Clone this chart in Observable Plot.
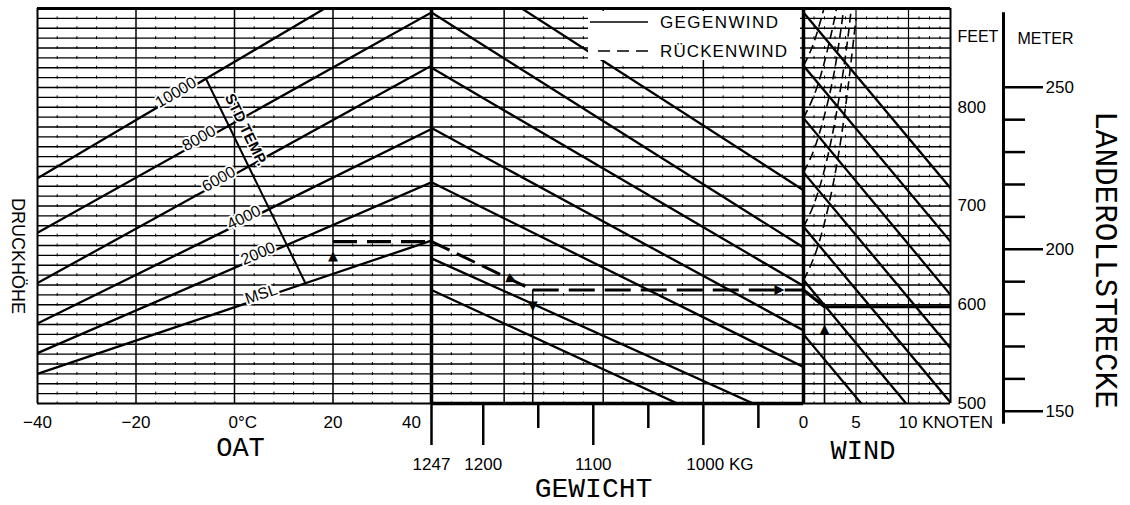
<!DOCTYPE html>
<html><head><meta charset="utf-8">
<script src="https://cdn.jsdelivr.net/npm/d3@7"></script>
<script src="https://cdn.jsdelivr.net/npm/@observablehq/plot@0.6"></script>
<style>
html,body{margin:0;padding:0;background:#fff;}
#wrap{position:relative;width:1130px;height:505px;overflow:hidden;background:#fff;}
#wrap > svg{position:absolute;left:0;top:0;overflow:visible;background:transparent;}
#wrap text{paint-order:stroke;}
#legend{position:absolute;left:588px;top:11px;width:212px;height:49px;background:#fff;}
</style></head><body>
<div id="wrap"></div>
<script>
// ---------- data ----------
const oatTicks = [-40, -20, 0, 20, 40];
const oatGrid = [-20, 0, 20];
const oatMinor = [-36, -32, -28, -24, -16, -12, -8, -4, 4, 8, 12, 16, 24, 28, 32, 36];
const paNames = ["MSL", "2000", "4000", "6000", "8000", "10000"];
const paAtMinus40 = [530, 551, 581, 622, 673, 728];
const paAtPlus40 = [665, 724, 778, 842, 896, 964];
const paLabelOat = [5.4, 4.8, 1.9, -3.2, -7.2, -11.9];
const stdTempOat = [-5.8, 14.4]; // ends on the 10000 and the MSL line

const weightTicks = [1247, 1200, 1100, 1000];
const weightMinorTicks = [1150, 1050, 950];
const weightGrid = [1181, 1091, 1000];
const weightMinor = [1229, 1211, 1163, 1145, 1127, 1109, 1073, 1055, 1037, 1019, 982, 964, 946, 928];
const guideAt1247 = [959, 896, 840, 779, 724, 647, 615];
const guideAt909 = [716, 658, 619, 574, 537, 477, 441];

const windTicks = [0, 5, 10];
const windMinor = [1, 2, 3, 4, 6, 7, 8, 9, 11, 12, 13];
const headAt0 = [896, 842, 789, 734, 679, 625, 570];
const headAt14 = [718, 664, 610, 556, 501, 446, 392];
const tailCurves = [
  [[0, 842], [1, 866], [2, 902]],
  [[0, 789], [1, 812], [2, 846], [3, 892], [3.3, 912]],
  [[0, 734], [1, 757], [2, 792], [3, 840], [3.9, 905]],
  [[0, 679], [1, 702], [2, 737], [3, 786], [4, 852], [4.6, 905]],
  [[0, 625], [1, 648], [2, 683], [3, 732], [4, 800], [5, 890]]
];

const feetTicks = [500, 600, 700, 800];
const meterTicks = [150, 200, 250];
const meterMinor = [160, 170, 180, 190, 210, 220, 230, 240];
const meterAxisEnds = [146, 273];

const routeOat = 20, routeWeight = 1155, routeWind = 2;
const routeFeet = [664, 615, 598];

// ---------- layout ----------
const W = 1130, H = 505, MT = 8, MB = 102;
const FEET = [500, 900];
const grid = d3.range(510, 900, 10);
const SANS = "'Liberation Sans',Arial,sans-serif";
const MONO = "'Liberation Mono','DejaVu Sans Mono',monospace";
const wrap = document.getElementById("wrap");
const AX = {label: null, fontSize: 17};

function panel(ml, mr, x, marks) {
  const svg = Plot.plot({
    width: W, height: H, marginTop: MT, marginBottom: MB, marginLeft: ml, marginRight: mr,
    x: {...x, axis: null}, y: {domain: FEET, axis: null},
    style: {fontFamily: SANS, fontSize: "17px", color: "#000", background: "transparent", overflow: "visible"},
    marks
  });
  wrap.appendChild(svg);
  return svg;
}
const pxPerFt = (H - MT - MB) / (FEET[1] - FEET[0]);
const lineCommon = {stroke: "#000", strokeLinecap: "butt"};
const dotted = {stroke: "#000", strokeWidth: 1, strokeDasharray: "3 6.875", strokeDashoffset: 1.5};
const arrowGlyph = {text: () => "▲", fontSize: 13, fontFamily: "DejaVu Sans"};

// ---------- panel A : OAT ----------
const aL = 37, aR = 431;
const pxPerC = (aR - aL) / 80;
const paData = paNames.flatMap((n, i) => [{oat: -40, ft: paAtMinus40[i], pa: n}, {oat: 40, ft: paAtPlus40[i], pa: n}]);
const paAt = (i, t) => paAtMinus40[i] + (paAtPlus40[i] - paAtMinus40[i]) * (t + 40) / 80;
const paLab = paNames.map((n, i) => ({
  oat: paLabelOat[i], ft: paAt(i, paLabelOat[i]), label: n,
  rot: -Math.atan((paAtPlus40[i] - paAtMinus40[i]) * pxPerFt / (80 * pxPerC)) * 180 / Math.PI
}));
const stdData = [{oat: stdTempOat[0], ft: paAt(5, stdTempOat[0])}, {oat: stdTempOat[1], ft: paAt(0, stdTempOat[1])}];
const stdRot = Math.atan((stdData[0].ft - stdData[1].ft) * pxPerFt / ((stdData[1].oat - stdData[0].oat) * pxPerC)) * 180 / Math.PI;
const stdMid = {oat: stdData[0].oat + 0.25 * (stdData[1].oat - stdData[0].oat), ft: stdData[0].ft + 0.25 * (stdData[1].ft - stdData[0].ft)};

panel(aL, W - aR, {domain: [-40, 40]}, [
  Plot.ruleY(grid, {...lineCommon, strokeWidth: 1.4}),
  Plot.ruleX(oatMinor, dotted),
  Plot.ruleX(oatGrid, {...lineCommon, strokeWidth: 1.5}),
  Plot.line(paData, {x: "oat", y: "ft", z: "pa", ...lineCommon, strokeWidth: 2.3, clip: true}),
  Plot.line(stdData, {x: "oat", y: "ft", ...lineCommon, strokeWidth: 2}),
  Plot.text(paLab, {x: "oat", y: "ft", text: "label", rotate: "rot", dy: -4, fontSize: 16, stroke: "white", strokeWidth: 4, fill: "black"}),
  Plot.text([stdMid], {x: "oat", y: "ft", text: () => "STD TEMP.", rotate: stdRot, dx: 15, fontSize: 15, fontWeight: "bold", stroke: "white", strokeWidth: 3, fill: "black"}),
  // route
  Plot.line([{oat: routeOat, ft: routeFeet[0]}, {oat: 40, ft: routeFeet[0]}], {x: "oat", y: "ft", ...lineCommon, strokeWidth: 3.2, strokeDasharray: "24 10"}),
  Plot.text([{oat: routeOat, ft: routeFeet[0] - 14}], {x: "oat", y: "ft", ...arrowGlyph}),
  // borders
  Plot.ruleX([-40], {...lineCommon, strokeWidth: 2}),
  Plot.ruleY([500], {...lineCommon, strokeWidth: 2.2}),
  Plot.ruleY([900], {...lineCommon, strokeWidth: 3}),
  // axes
  Plot.axisX({...AX, ticks: [-40, -20, 20], tickSize: 0, tickPadding: 12, tickFormat: d => d < 0 ? "\u2212" + (-d) : String(d)}),
  Plot.axisX({...AX, ticks: [0], tickSize: 0, tickPadding: 12, textAnchor: "start", dx: -6, tickFormat: () => "0°C"}),
  Plot.axisX({...AX, ticks: [40], tickSize: 0, tickPadding: 12, dx: -20}),
  Plot.text(["OAT"], {frameAnchor: "bottom", dx: 6, dy: 52, fontFamily: MONO, fontSize: 27}),
  Plot.text(["DRUCKHÖHE"], {frameAnchor: "left", textAnchor: "middle", dx: -20, dy: 50, rotate: 90, fontSize: 18})
]);

// ---------- panel B : weight ----------
const bL = 431, bR = 803;
const guideData = guideAt1247.flatMap((v, i) => [{w: 1247, ft: v, k: i}, {w: 909, ft: guideAt909[i], k: i}]);
const pxPerKg = (bR - bL) / (1247 - 909);
const routeDiagRot = 90 + Math.atan((routeFeet[0] - routeFeet[1]) * pxPerFt / ((1247 - routeWeight) * pxPerKg)) * 180 / Math.PI;
panel(bL, W - bR, {domain: [1247, 909]}, [
  Plot.ruleY(grid, {...lineCommon, strokeWidth: 1.4}),
  Plot.ruleX(weightMinor, dotted),
  Plot.ruleX(weightGrid, {...lineCommon, strokeWidth: 1.5}),
  Plot.line(guideData, {x: "w", y: "ft", z: "k", ...lineCommon, strokeWidth: 2.3, clip: true}),
  // route
  Plot.line([{w: 1247, ft: routeFeet[0]}, {w: routeWeight, ft: routeFeet[1]}], {x: "w", y: "ft", ...lineCommon, strokeWidth: 3, strokeDasharray: "20 8"}),
  Plot.text([{w: 1247 - 0.8 * (1247 - routeWeight), ft: routeFeet[0] - 0.8 * (routeFeet[0] - routeFeet[1])}], {x: "w", y: "ft", ...arrowGlyph, rotate: routeDiagRot}),
  Plot.line([{w: routeWeight, ft: routeFeet[1]}, {w: 909, ft: routeFeet[1]}], {x: "w", y: "ft", ...lineCommon, strokeWidth: 3, strokeDasharray: "26 10"}),
  Plot.text([{w: 930, ft: routeFeet[1]}], {x: "w", y: "ft", ...arrowGlyph, rotate: 90}),
  Plot.ruleX([routeWeight], {y1: 500, y2: routeFeet[1], ...lineCommon, strokeWidth: 1.6}),
  Plot.text([{w: routeWeight, ft: routeFeet[2]}], {x: "w", y: "ft", ...arrowGlyph, rotate: 180}),
  // borders
  Plot.ruleX([1247], {...lineCommon, strokeWidth: 3.5, y1: 500, y2: 900}),
  Plot.ruleY([500], {...lineCommon, strokeWidth: 3.5}),
  Plot.ruleY([900], {...lineCommon, strokeWidth: 3}),
  // axes
  Plot.axisX({...AX, ticks: weightTicks, tickSize: 42, tickPadding: 12, strokeWidth: 2.5, tickFormat: d => d === 1000 ? "" : String(d)}),
  Plot.axisX({...AX, ticks: [1000], tickSize: 0, tickPadding: 54, textAnchor: "start", dx: -17, tickFormat: () => "1000 KG"}),
  Plot.axisX({...AX, ticks: weightMinorTicks, tickSize: 25, strokeWidth: 2.5, tickFormat: () => ""}),
  Plot.text(["GEWICHT"], {frameAnchor: "bottom", dx: -24, dy: 93, fontFamily: MONO, fontSize: 28})
]);

// ---------- panel C : wind ----------
const cL = 803, cR = 950;
const headData = headAt0.flatMap((v, i) => [{kt: 0, ft: v, k: i}, {kt: 14, ft: headAt14[i], k: i}]);
const tailData = tailCurves.flatMap((c, i) => c.map(([kt, ft]) => ({kt, ft, k: i})));
panel(cL, W - cR, {domain: [0, 14]}, [
  Plot.ruleY(grid, {...lineCommon, strokeWidth: 1.4}),
  Plot.ruleX(windMinor, dotted),
  Plot.ruleX([5, 10], {...lineCommon, strokeWidth: 1.2}),
  Plot.line(headData, {x: "kt", y: "ft", z: "k", ...lineCommon, strokeWidth: 2.3, clip: true}),
  Plot.line(tailData, {x: "kt", y: "ft", z: "k", ...lineCommon, strokeWidth: 1.6, strokeDasharray: "9 5", curve: "natural", clip: true}),
  // route
  Plot.line([{kt: 0, ft: routeFeet[1]}, {kt: routeWind, ft: routeFeet[2]}, {kt: 14, ft: routeFeet[2]}], {x: "kt", y: "ft", ...lineCommon, strokeWidth: 3.2}),
  Plot.ruleX([routeWind], {y1: 500, y2: routeFeet[2], ...lineCommon, strokeWidth: 1.6}),
  Plot.text([{kt: routeWind, ft: routeFeet[2] - 22}], {x: "kt", y: "ft", ...arrowGlyph}),
  // borders
  Plot.ruleX([0], {...lineCommon, strokeWidth: 3.5}),
  Plot.ruleX([14], {...lineCommon, strokeWidth: 2}),
  Plot.ruleY([500], {...lineCommon, strokeWidth: 2.2}),
  Plot.ruleY([900], {...lineCommon, strokeWidth: 3}),
  // axes
  Plot.axisX({...AX, ticks: [0, 5], tickSize: 0, tickPadding: 12}),
  Plot.axisX({...AX, ticks: [10], tickSize: 0, tickPadding: 12, textAnchor: "start", dx: -10, tickFormat: () => "10 KNOTEN"}),
  Plot.axisY({...AX, anchor: "right", ticks: feetTicks, tickSize: 0, tickPadding: 7}),
  Plot.text(["FEET"], {frameAnchor: "top-right", dx: 7, dy: 22, textAnchor: "start", fontSize: 16}),
  Plot.text(["WIND"], {frameAnchor: "bottom", dx: -14, dy: 55, fontFamily: MONO, fontSize: 27})
]);

// ---------- panel D : meter scale ----------
const dL = 1003;
wrap.appendChild(Plot.plot({
  width: W, height: H, marginTop: MT, marginBottom: MB, marginLeft: dL, marginRight: W - dL - 1,
  x: {domain: [0, 1], axis: null},
  y: {domain: FEET.map(f => f * 0.3048), axis: null},
  style: {fontFamily: SANS, fontSize: "17px", color: "#000", background: "transparent", overflow: "visible"},
  marks: [
    Plot.ruleX([0], {y1: meterAxisEnds[0], y2: meterAxisEnds[1], stroke: "#000", strokeWidth: 3}),
    Plot.axisY({...AX, anchor: "right", ticks: meterTicks, tickSize: 38, tickPadding: 3, strokeWidth: 2.5}),
    Plot.axisY({...AX, anchor: "right", ticks: meterMinor, tickSize: 20, strokeWidth: 2.5, tickFormat: () => ""}),
    Plot.text(["METER"], {frameAnchor: "top-right", dx: 13, dy: 24, textAnchor: "start", fontSize: 16}),
    Plot.text(["LANDEROLLSTRECKE"], {frameAnchor: "right", textAnchor: "middle", dx: 101, dy: 54, rotate: 90, fontFamily: MONO, fontSize: 31})
  ]
}));

// ---------- legend ----------
const lg = document.createElement("div");
lg.id = "legend";
lg.innerHTML = `<svg width="212" height="49" style="position:absolute;left:0;top:0">
<line x1="2" x2="60" y1="11" y2="11" stroke="#000" stroke-width="1.6"/>
<line x1="10" x2="62" y1="40" y2="40" stroke="#000" stroke-width="1.6" stroke-dasharray="12 7"/>
<text x="72" y="17" font-size="17" font-family="Liberation Sans, Arial, sans-serif" letter-spacing="1.4">GEGENWIND</text>
<text x="72" y="46" font-size="17" font-family="Liberation Sans, Arial, sans-serif" letter-spacing="1.1">RÜCKENWIND</text>
</svg>`;
wrap.appendChild(lg);
</script>
</body></html>
